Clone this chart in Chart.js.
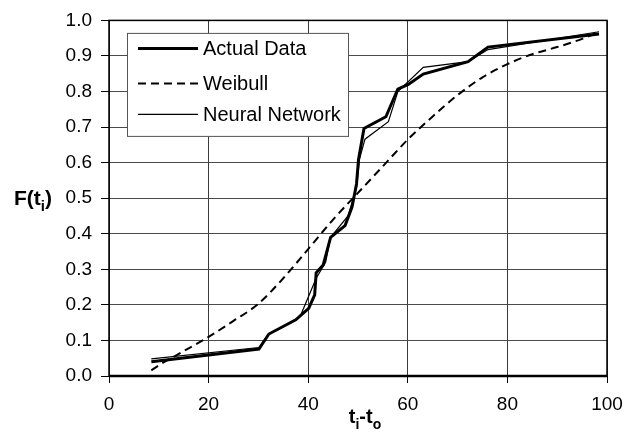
<!DOCTYPE html>
<html lang="en">
<head>
  <meta charset="UTF-8">
  <title>F(ti) vs ti-to</title>
  <script src="https://cdn.jsdelivr.net/npm/chart.js"></script>
  <style>
    body { margin: 0; background: #fff; }
    #wrap { width: 636px; height: 434px; }
  </style>
</head>
<body>
  <div id="wrap"><canvas id="cdf"></canvas></div>
  <script>
    // values
    const actualX = [8.5, 30.1, 32.1, 37.5, 40.1, 41.3, 41.6, 43.0, 44.5, 47.4, 48.8, 49.7, 50.1, 51.2, 55.6, 58.0, 60.1, 63.1, 72.1, 76.1, 98.4];
    const actualY = [0.040, 0.076, 0.118, 0.158, 0.190, 0.228, 0.290, 0.312, 0.390, 0.423, 0.475, 0.540, 0.608, 0.696, 0.729, 0.807, 0.820, 0.849, 0.884, 0.925, 0.962];

    const weibullX = [8.5, 10, 15, 20, 25, 30, 35, 40, 45, 50, 55, 60, 65, 70, 75, 80, 85, 90, 95, 97.5];
    const weibullY = [0.016, 0.03, 0.07, 0.11, 0.155, 0.203, 0.275, 0.357, 0.44, 0.515, 0.59, 0.665, 0.73, 0.79, 0.84, 0.877, 0.905, 0.925, 0.948, 0.962];

    const nnX = [8.5, 30.1, 32.1, 37.5, 38.4, 41.6, 43.5, 44.5, 48.0, 49.7, 50.3, 51.4, 56.1, 58.0, 63.1, 72.1, 76.1, 98.4];
    const nnY = [0.048, 0.080, 0.118, 0.158, 0.168, 0.275, 0.320, 0.390, 0.450, 0.530, 0.610, 0.666, 0.715, 0.800, 0.868, 0.884, 0.918, 0.968];

    const seriesNames = ['Actual Data', 'Weibull', 'Neural Network'];

    const pts = (xs, ys) => xs.map((x, i) => ({ x, y: ys[i] }));

    // draws a string made of normal and subscript parts
    function drawParts(ctx, parts, x, y, size, align) {
      ctx.save();
      ctx.textBaseline = 'alphabetic';
      ctx.textAlign = 'left';
      let total = 0;
      parts.forEach(p => {
        ctx.font = 'bold ' + (p[1] ? Math.round(size * 0.7) : size) + 'px Arial, "Liberation Sans", sans-serif';
        total += ctx.measureText(p[0]).width;
      });
      let cx = align === 'center' ? x - total / 2 : x;
      parts.forEach(p => {
        ctx.font = 'bold ' + (p[1] ? Math.round(size * 0.7) : size) + 'px Arial, "Liberation Sans", sans-serif';
        ctx.fillText(p[0], cx, p[1] ? y + size * 0.28 : y);
        cx += ctx.measureText(p[0]).width;
      });
      ctx.restore();
    }

    const framePlugin = {
      id: 'frame',
      afterDatasetsDraw(chart) {
        const { ctx, chartArea: a } = chart;
        ctx.save();
        ctx.strokeStyle = '#000';
        ctx.lineWidth = 1.5;
        ctx.strokeRect(a.left, a.top, a.right - a.left, a.bottom - a.top);
        ctx.lineWidth = 2.5;
        ctx.beginPath();
        ctx.moveTo(a.left, a.bottom);
        ctx.lineTo(a.right, a.bottom);
        ctx.stroke();
        ctx.restore();
      }
    };

    const legendPlugin = {
      id: 'boxLegend',
      afterDraw(chart) {
        const { ctx, chartArea: a } = chart;
        const bx = a.left + 18.5, by = a.top + 13, bw = 221, bh = 103;
        ctx.save();
        ctx.fillStyle = '#fff';
        ctx.fillRect(bx, by, bw, bh);
        ctx.strokeStyle = '#555';
        ctx.lineWidth = 1;
        ctx.strokeRect(bx, by, bw, bh);
        const rows = [28, 63, 94];
        chart.data.datasets.forEach((ds, i) => {
          const yy = a.top + rows[i];
          ctx.strokeStyle = ds.borderColor;
          ctx.lineWidth = ds.borderWidth;
          ctx.setLineDash(ds.borderDash || []);
          ctx.beginPath();
          ctx.moveTo(a.left + 29, yy);
          ctx.lineTo(a.left + 89, yy);
          ctx.stroke();
          ctx.setLineDash([]);
          ctx.fillStyle = '#000';
          ctx.font = '20px Arial, "Liberation Sans", sans-serif';
          ctx.textBaseline = 'middle';
          ctx.fillText(ds.label, a.left + 94, yy + 1);
        });
        ctx.restore();
      }
    };

    const titlesPlugin = {
      id: 'axisTitles',
      afterDraw(chart) {
        const { ctx, chartArea: a } = chart;
        ctx.fillStyle = '#000';
        drawParts(ctx, [['F(t', false], ['i', true], [')', false]], 14, (a.top + a.bottom) / 2 + 7, 21, 'left');
        drawParts(ctx, [['t', false], ['i', true], ['-t', false], ['o', true]], (a.left + a.right) / 2 + 7, 423, 20, 'center');
      }
    };

    new Chart(document.getElementById('cdf'), {
      type: 'line',
      data: {
        datasets: [
          {
            label: seriesNames[0],
            data: pts(actualX, actualY),
            borderColor: '#000',
            borderWidth: 3,
            pointRadius: 0,
            tension: 0,
            fill: false
          },
          {
            label: seriesNames[1],
            data: pts(weibullX, weibullY),
            borderColor: '#000',
            borderWidth: 2,
            borderDash: [8, 5],
            pointRadius: 0,
            cubicInterpolationMode: 'monotone',
            fill: false
          },
          {
            label: seriesNames[2],
            data: pts(nnX, nnY),
            borderColor: '#000',
            borderWidth: 1.2,
            pointRadius: 0,
            tension: 0,
            fill: false
          }
        ]
      },
      options: {
        responsive: true,
        maintainAspectRatio: false,
        animation: false,
        layout: { padding: { top: 16, right: 29, left: 0, bottom: 0 } },
        plugins: { legend: { display: false }, tooltip: { enabled: false } },
        scales: {
          x: {
            type: 'linear',
            min: 0,
            max: 100,
            afterFit: s => { s.height = 58; },
            ticks: { stepSize: 20, color: '#000', padding: 10, font: { family: 'Arial, "Liberation Sans", sans-serif', size: 19 } },
            grid: { color: '#3a3a3a', lineWidth: 1, tickLength: 7, tickColor: '#000' },
            border: { display: false }
          },
          y: {
            min: 0,
            max: 1,
            afterFit: s => { s.width = 109; },
            ticks: {
              stepSize: 0.1,
              color: '#000',
              padding: 9,
              font: { family: 'Arial, "Liberation Sans", sans-serif', size: 19 },
              callback: v => v.toFixed(1)
            },
            grid: { color: '#4a4a4a', lineWidth: 1, tickLength: 8, tickColor: '#000' },
            border: { display: false }
          }
        }
      },
      plugins: [framePlugin, legendPlugin, titlesPlugin]
    });
  </script>
</body>
</html>
